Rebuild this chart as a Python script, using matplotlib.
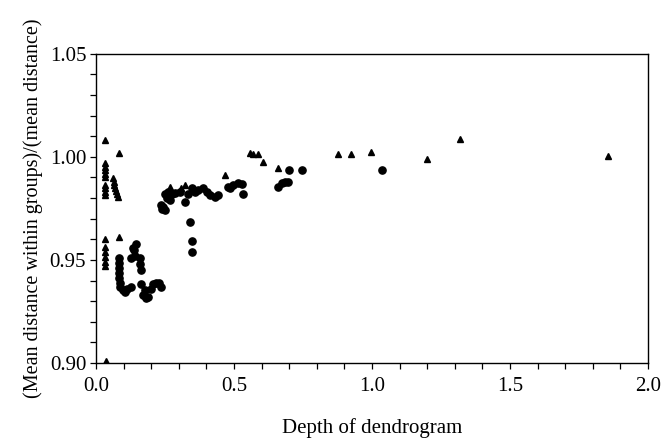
import matplotlib.pyplot as plt
from matplotlib.ticker import MultipleLocator, FormatStrFormatter

plt.rcParams['font.family'] = ['Liberation Serif', 'DejaVu Serif']

# circles
circ_x = [0.082, 0.083, 0.083, 0.084, 0.085, 0.086, 0.087, 0.098, 0.105, 0.112, 0.127,
          0.146, 0.134, 0.138, 0.128, 0.141, 0.158, 0.159, 0.164,
          0.164, 0.170, 0.178, 0.181, 0.188, 0.200, 0.207, 0.218, 0.228, 0.237,
          0.236, 0.240, 0.244, 0.250, 0.250, 0.256, 0.262, 0.268, 0.274, 0.285,
          0.304, 0.322, 0.334, 0.347, 0.359, 0.371, 0.389, 0.401, 0.413, 0.431, 0.443,
          0.340, 0.347, 0.349,
          0.479, 0.486, 0.497, 0.516, 0.528, 0.534,
          0.660, 0.673, 0.685, 0.697, 0.699, 0.748, 1.037]
circ_y = [0.9507, 0.9484, 0.9460, 0.9435, 0.9411, 0.9387, 0.9367, 0.9353, 0.9345, 0.9358, 0.9367,
          0.9575, 0.9557, 0.9547, 0.9507, 0.9518, 0.9507, 0.9479, 0.9450,
          0.9385, 0.9329, 0.9353, 0.9314, 0.9320, 0.9361, 0.9382, 0.9390, 0.9387, 0.9369,
          0.9765, 0.9745, 0.9757, 0.9741, 0.9822, 0.9798, 0.9830, 0.9790, 0.9822, 0.9825,
          0.9830, 0.9782, 0.9822, 0.9847, 0.9830, 0.9838, 0.9847, 0.9830, 0.9814, 0.9806, 0.9814,
          0.9684, 0.9592, 0.9536,
          0.9854, 0.9847, 0.9863, 0.9871, 0.9867, 0.9819,
          0.9854, 0.9871, 0.9876, 0.9876, 0.9935, 0.9935, 0.9935]

# triangles
tri_x = [0.033, 0.033, 0.033, 0.033, 0.033, 0.033, 0.033, 0.033, 0.033, 0.033,
         0.033, 0.033, 0.033, 0.033, 0.033, 0.033, 0.036,
         0.083, 0.063, 0.065, 0.067, 0.069, 0.072, 0.076, 0.081, 0.083,
         0.268, 0.310, 0.322, 0.467,
         0.558, 0.570, 0.588, 0.606, 0.660,
         0.876, 0.924, 0.996, 1.198, 1.319, 1.854]
tri_y = [1.0081, 0.9968, 0.9951, 0.9935, 0.9919, 0.9903, 0.9863, 0.9847, 0.9831, 0.9814,
         0.9600, 0.9563, 0.9540, 0.9515, 0.9490, 0.9468, 0.9010,
         1.0020, 0.9895, 0.9879, 0.9863, 0.9847, 0.9833, 0.9819, 0.9803, 0.9610,
         0.9854, 0.9850, 0.9863, 0.9911,
         1.0019, 1.0016, 1.0012, 0.9976, 0.9944,
         1.0016, 1.0016, 1.0023, 0.9989, 1.0085, 1.0003]

fig = plt.figure(figsize=(6.66, 4.41), dpi=100)
ax = fig.add_axes([0.144, 0.177, 0.829, 0.701])

ax.plot(circ_x, circ_y, 'o', color='black', markersize=5.2, linestyle='none')
ax.plot(tri_x, tri_y, '^', color='black', markersize=5.0, linestyle='none')

ax.set_xlim(0, 2.0)
ax.set_ylim(0.90, 1.05)
ax.xaxis.set_major_locator(MultipleLocator(0.5))
ax.xaxis.set_minor_locator(MultipleLocator(0.1))
ax.yaxis.set_major_locator(MultipleLocator(0.05))
ax.yaxis.set_minor_locator(MultipleLocator(0.01))
ax.xaxis.set_major_formatter(FormatStrFormatter('%.1f'))
ax.yaxis.set_major_formatter(FormatStrFormatter('%.2f'))
ax.tick_params(which='both', direction='out', length=4, width=0.9,
               top=False, right=False, labelsize=15, pad=3)
ax.tick_params(axis='x', which='both', pad=6)
for s in ax.spines.values():
    s.set_linewidth(1.0)

ax.set_xlabel('Depth of dendrogram', fontsize=15, labelpad=16)
ax.set_ylabel('(Mean distance within groups)/(mean distance)', fontsize=14.5, labelpad=5)

fig.savefig('out.png', dpi=100)
